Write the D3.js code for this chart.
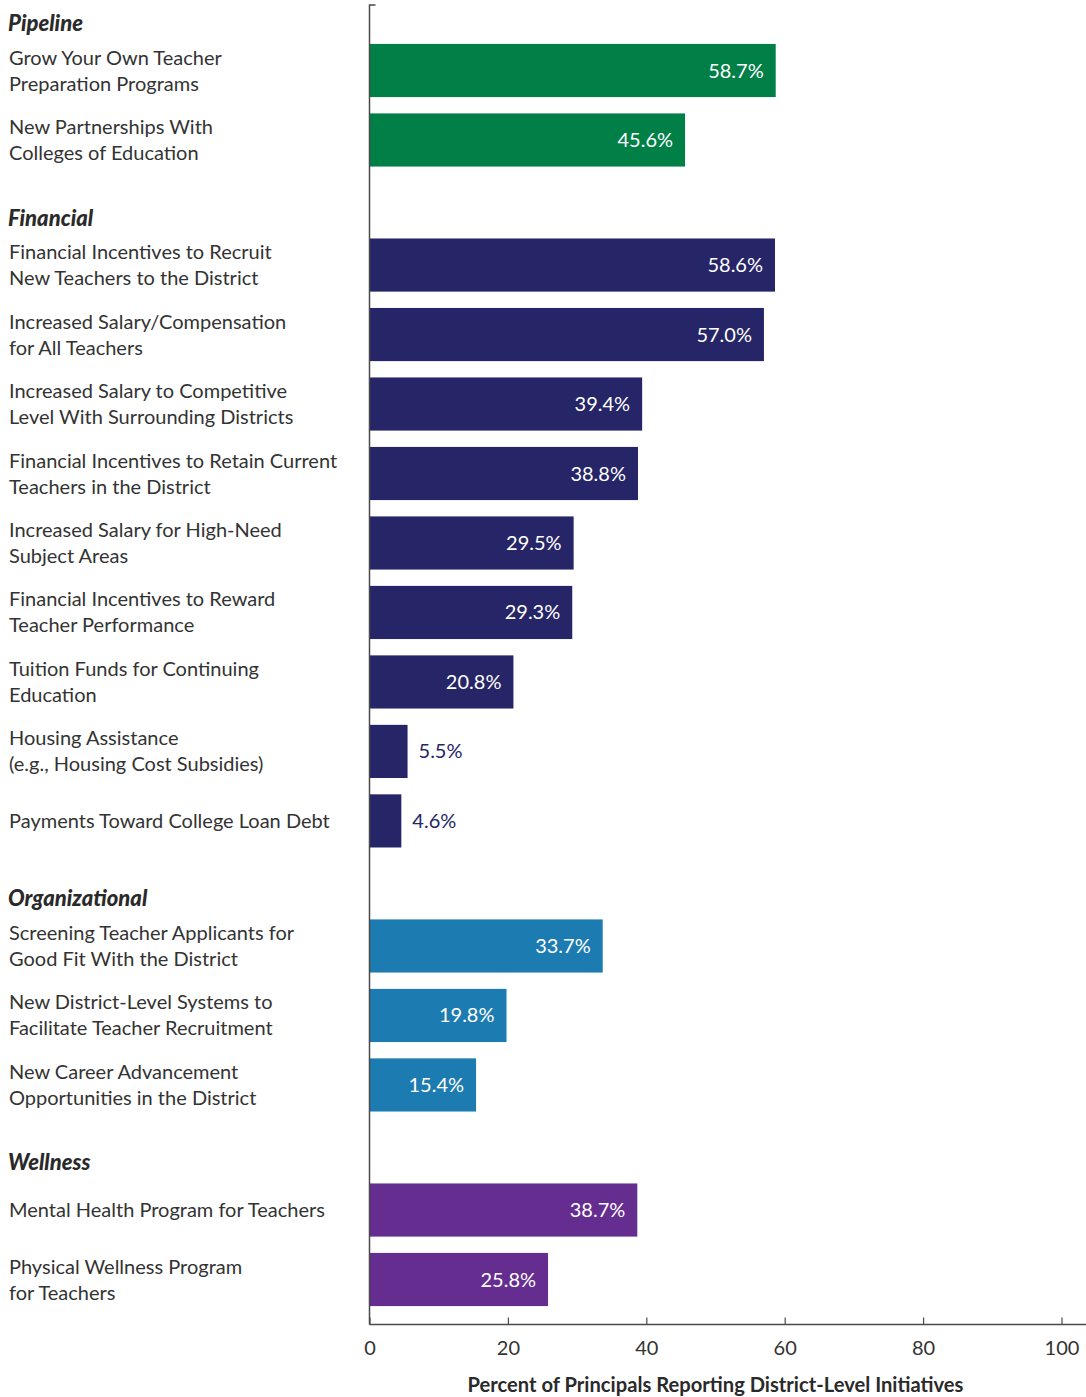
<!DOCTYPE html>
<html>
<head>
<meta charset="utf-8">
<script src="https://cdn.jsdelivr.net/npm/d3@7"></script>
<style>
  html, body { margin: 0; padding: 0; background: #fff; }
  svg { display: block; font-family: Lato, "Open Sans", sans-serif; }
</style>
</head>
<body>
<svg id="chart" width="1086" height="1397"></svg>
<script>
// Initiative groups, in drawing order
const groups = ["Pipeline", "Financial", "Organizational", "Wellness"];
const groupColors = ["#007f47", "#262568", "#1c7bb0", "#652d90"];

// Initiative labels (line breaks with "\n")
const initiatives = [
  "Grow Your Own Teacher\nPreparation Programs",
  "New Partnerships With\nColleges of Education",
  "Financial Incentives to Recruit\nNew Teachers to the District",
  "Increased Salary/Compensation\nfor All Teachers",
  "Increased Salary to Competitive\nLevel With Surrounding Districts",
  "Financial Incentives to Retain Current\nTeachers in the District",
  "Increased Salary for High-Need\nSubject Areas",
  "Financial Incentives to Reward\nTeacher Performance",
  "Tuition Funds for Continuing\nEducation",
  "Housing Assistance\n(e.g., Housing Cost Subsidies)",
  "Payments Toward College Loan Debt",
  "Screening Teacher Applicants for\nGood Fit With the District",
  "New District-Level Systems to\nFacilitate Teacher Recruitment",
  "New Career Advancement\nOpportunities in the District",
  "Mental Health Program for Teachers",
  "Physical Wellness Program\nfor Teachers"
];
// Group index of each initiative
const groupOf = [0, 0, 1, 1, 1, 1, 1, 1, 1, 1, 1, 2, 2, 2, 3, 3];
// Percent of principals reporting each initiative
const percents = [58.7, 45.6, 58.6, 57.0, 39.4, 38.8, 29.5, 29.3, 20.8, 5.5, 4.6, 33.7, 19.8, 15.4, 38.7, 25.8];

const xTicks = [0, 20, 40, 60, 80, 100];
const xTitle = "Percent of Principals Reporting District-Level Initiatives";

const svg = d3.select("#chart");
const textColor = "#333333";

// Horizontal value scale
const x = d3.scaleLinear().domain([0, 100]).range([369.5, 1061.5]);

// Vertical slot scale: each group header takes 0.8 of a row
const headerSlots = 0.8;
const slotOf = (i) => i + headerSlots * groupOf[i];
const lastSlot = slotOf(initiatives.length - 1);
const y = d3.scaleLinear().domain([0, lastSlot]).range([70.5, 1279.5]);
const rowStep = y(1) - y(0);
const barH = rowStep * 0.765;

const rows = initiatives.map((label, i) => ({
  label, value: percents[i], group: groupOf[i], slot: slotOf(i)
}));

// Bars
svg.append("g").selectAll("rect")
  .data(rows)
  .join("rect")
  .attr("x", x(0))
  .attr("y", d => y(d.slot) - barH / 2)
  .attr("width", d => x(d.value) - x(0))
  .attr("height", barH)
  .attr("fill", d => groupColors[d.group]);

// Value labels: inside the bar when it is wide enough, otherwise just past it
const fmt = d3.format(".1f");
svg.append("g").selectAll("text")
  .data(rows)
  .join("text")
  .attr("x", d => d.value > 10 ? x(d.value) - 12 : x(d.value) + 11)
  .attr("y", d => y(d.slot))
  .attr("dy", "0.35em")
  .attr("text-anchor", d => d.value > 10 ? "end" : "start")
  .attr("fill", d => d.value > 10 ? "#ffffff" : groupColors[d.group])
  .attr("font-size", 20)
  .text(d => fmt(d.value) + "%");

// Category labels
const lineH = 26;
const labels = svg.append("g").selectAll("text")
  .data(rows)
  .join("text")
  .attr("x", 9)
  .attr("y", d => y(d.slot))
  .attr("fill", textColor)
  .attr("font-size", 20);
labels.each(function(d) {
  const lines = d.label.split("\n");
  const t = d3.select(this);
  lines.forEach((ln, k) => {
    t.append("tspan")
      .attr("x", 9)
      .attr("y", y(d.slot) + (k - (lines.length - 1) / 2) * lineH)
      .attr("dy", "0.35em")
      .text(ln);
  });
});

// Group headers, placed above the first row of each group
const headerRows = groups.map((g, gi) => ({
  name: g, slot: slotOf(groupOf.indexOf(gi)) - 0.68
}));
svg.append("g").selectAll("text")
  .data(headerRows)
  .join("text")
  .attr("x", 8)
  .attr("y", d => y(d.slot))
  .attr("dy", "0.35em")
  .attr("fill", "#2a2a2a")
  .attr("font-size", 22)
  .attr("font-weight", 900)
  .attr("font-style", "italic")
  .text(d => d.name);

// Vertical axis line with a small cap at the top
const axisColor = "#4a4a4a";
const yTop = 5, yBase = 1324.5;
svg.append("path")
  .attr("d", `M${x(0) + 6},${yTop}H${x(0)}V${yBase}`)
  .attr("fill", "none")
  .attr("stroke", axisColor)
  .attr("stroke-width", 1.5);

// Horizontal axis, ticks pointing up into the plot
const xAxis = d3.axisBottom(x)
  .tickValues(xTicks)
  .tickSize(-7)
  .tickSizeOuter(0)
  .tickPadding(16)
  .tickFormat(d3.format("d"));
const gx = svg.append("g")
  .attr("transform", `translate(0,${yBase})`)
  .call(xAxis);
gx.select(".domain").remove();
gx.append("line")
  .attr("x1", x(0)).attr("x2", 1086)
  .attr("stroke", axisColor).attr("stroke-width", 1.5);
gx.selectAll(".tick line").attr("stroke", axisColor).attr("stroke-width", 1.2);
gx.selectAll(".tick text")
  .attr("fill", textColor)
  .attr("font-size", 20)
  .attr("font-family", "Lato, sans-serif");

// Axis title
svg.append("text")
  .attr("x", x(50))
  .attr("y", 1385)
  .attr("dy", "0.35em")
  .attr("text-anchor", "middle")
  .attr("fill", "#2a2a2a")
  .attr("font-size", 20)
  .attr("font-weight", 700)
  .attr("textLength", 496)
  .attr("lengthAdjust", "spacingAndGlyphs")
  .text(xTitle);
</script>
</body>
</html>
